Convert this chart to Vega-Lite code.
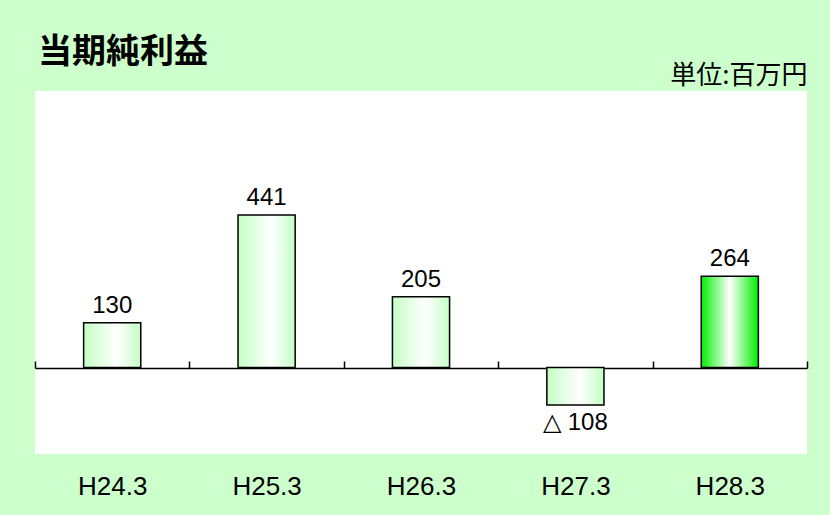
{
  "$schema": "https://vega.github.io/schema/vega-lite/v6.json",
  "width": 772,
  "height": 363,
  "autosize": {"type": "none"},
  "padding": {"left": 35, "top": 91, "right": 23, "bottom": 61},
  "background": "#ccffcc",
  "config": {"view": {"fill": "white", "stroke": null}, "font": "Liberation Sans"},
  "title": {"text": "当期純利益", "anchor": "start", "frame": "group", "font": "Noto Sans CJK JP", "fontSize": 34, "fontWeight": "bold", "color": "black", "offset": 21, "dx": 3, "dy": 29},
  "data": {"values": [
    {"year": "H24.3", "value": 130, "label": "130"},
    {"year": "H25.3", "value": 441, "label": "441"},
    {"year": "H26.3", "value": 205, "label": "205"},
    {"year": "H27.3", "value": -108, "label": "△ 108"},
    {"year": "H28.3", "value": 264, "label": "264"}
  ]},
  "layer": [
    {
      "mark": {"type": "rule", "opacity": 0},
      "encoding": {
        "x": {"datum": 0, "type": "quantitative", "scale": {"domain": [0, 5], "nice": false, "zero": false},
          "axis": {"orient": "top", "offset": -277, "values": [0, 1, 2, 3, 4, 5], "labels": false, "title": null, "grid": false, "tickSize": 7, "tickColor": "black", "tickWidth": 1.5, "domainColor": "black", "domainWidth": 1.5}}
      }
    },
    {
      "mark": {"type": "bar", "stroke": "black", "strokeWidth": 1.5},
      "encoding": {
        "x": {"field": "year", "type": "nominal", "sort": ["H24.3", "H25.3", "H26.3", "H27.3", "H28.3"],
          "scale": {"paddingInner": 0.63, "paddingOuter": 0.315}, "axis": null},
        "y": {"field": "value", "type": "quantitative", "scale": {"domain": [-250, 800], "nice": false},
          "axis": {"orient": "right", "title": "単位:百万円", "labels": false, "ticks": false, "domain": false, "grid": false,
            "titleAngle": 0, "titleAlign": "right", "titleBaseline": "bottom", "titleX": 0, "titleY": -3,
            "titleFont": "Noto Sans CJK JP", "titleFontSize": 26, "titleFontWeight": "normal", "titleColor": "black"}},
        "fill": {
          "condition": {"test": "datum.year === 'H28.3'", "value": {"gradient": "linear", "x1": 0, "x2": 1, "y1": 0, "y2": 0, "stops": [{"offset": 0, "color": "#00ee00"}, {"offset": 0.5, "color": "#ffffff"}, {"offset": 1, "color": "#00ee00"}]}},
          "value": {"gradient": "linear", "x1": 0, "x2": 1, "y1": 0, "y2": 0, "stops": [{"offset": 0, "color": "#c4ffc4"}, {"offset": 0.58, "color": "#ffffff"}, {"offset": 1, "color": "#c4ffc4"}]}
        }
      }
    },
    {
      "mark": {"type": "text", "baseline": "bottom", "dy": -5, "fontSize": 24, "color": "black"},
      "encoding": {
        "x": {"field": "year", "type": "nominal", "sort": ["H24.3", "H25.3", "H26.3", "H27.3", "H28.3"],
          "axis": {"orient": "bottom", "title": null, "ticks": false, "domain": false, "labelAngle": 0, "labelPadding": 19, "labelFontSize": 26, "labelColor": "black", "labelFont": "Liberation Sans"}},
        "y": {"field": "value", "type": "quantitative", "axis": null},
        "text": {"condition": {"test": "datum.value >= 0", "field": "label"}, "value": ""}
      }
    },
    {
      "mark": {"type": "text", "baseline": "top", "dy": 6, "fontSize": 24, "color": "black"},
      "encoding": {
        "x": {"field": "year", "type": "nominal", "sort": ["H24.3", "H25.3", "H26.3", "H27.3", "H28.3"], "axis": null},
        "y": {"field": "value", "type": "quantitative", "axis": null},
        "text": {"condition": {"test": "datum.value < 0", "field": "label"}, "value": ""}
      }
    }
  ],
  "resolve": {"scale": {"x": "independent"}, "axis": {"x": "independent", "y": "independent"}}
}
